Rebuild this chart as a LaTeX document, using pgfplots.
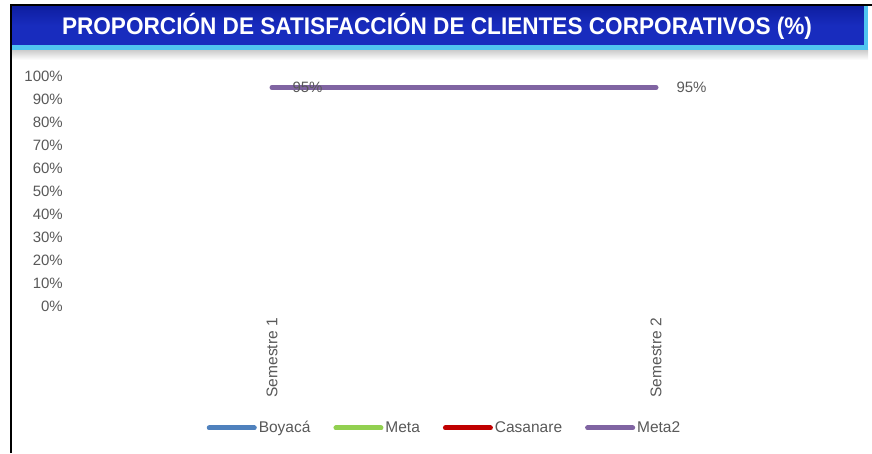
\documentclass[border=0pt]{standalone}
\usepackage{pgfplots}
\pgfplotsset{compat=1.18}
\usepackage{fontspec}
\setmainfont{Liberation Sans}
\usepackage{graphicx}
\definecolor{bandblue}{RGB}{24,44,190}
\definecolor{banddark}{RGB}{14,30,160}
\definecolor{bandlight}{RGB}{80,196,240}
\definecolor{tickgray}{RGB}{89,89,89}
\definecolor{cBoy}{RGB}{79,129,189}
\definecolor{cMeta}{RGB}{146,208,80}
\definecolor{cCas}{RGB}{192,0,0}
\definecolor{cMeta2}{RGB}{128,100,162}
\begin{document}
\begin{tikzpicture}[x=1pt,y=1pt]
\useasboundingbox (0,0) rectangle (872,453);
\fill[white] (0,0) rectangle (872,453);
% title band
\fill[top color=white!60!gray, bottom color=white] (12,393) rectangle (868,403);
\fill[bandlight] (12,403) rectangle (868,408);
\shade[top color=banddark, bottom color=bandblue, middle color=bandblue] (12,408) rectangle (866,447);
\fill[bandlight] (864,403) rectangle (868,447);
\node[text=white, font=\bfseries\fontsize{24}{28}\selectfont, inner sep=0pt] at (437,427) {\resizebox{750pt}{\height}{PROPORCIÓN DE SATISFACCIÓN DE CLIENTES CORPORATIVOS (\%)}};
% border
\draw[black, line width=2pt] (11,0) -- (11,448) -- (872,448);
\begin{axis}[
  at={(80pt,147pt)}, anchor=south west,
  scale only axis, width=768pt, height=230pt,
  xmin=-0.5, xmax=1.5, ymin=0, ymax=1,
  axis line style={draw=none}, major tick style={draw=none},
  ytick={0,0.1,0.2,0.3,0.4,0.5,0.6,0.7,0.8,0.9,1},
  yticklabels={0\%,10\%,20\%,30\%,40\%,50\%,60\%,70\%,80\%,90\%,100\%},
  yticklabel style={anchor=east, inner sep=0pt, xshift=-17pt, text=tickgray, font=\fontsize{15}{18}\selectfont},
  xtick={0,1}, xticklabels={Semestre 1, Semestre 2},
  xticklabel style={yshift=-12pt, rotate=90, anchor=east, inner sep=0pt, text=tickgray, font=\fontsize{15.5}{18}\selectfont},
  /pgf/number format/assume math mode=true,
  legend columns=4,
  legend style={at={(0.4746,-0.5304)}, anchor=center, draw=none, fill=none,
    font=\fontsize{15.5}{18}\selectfont, text=tickgray,
    /tikz/every even column/.append style={column sep=21pt}},
  legend image code/.code={\draw[#1, line width=5pt, line cap=round] (0pt,0pt) -- (45pt,0pt);},
]
\addlegendimage{cBoy}\addlegendentry{Boyacá}
\addlegendimage{cMeta}\addlegendentry{Meta}
\addlegendimage{cCas}\addlegendentry{Casanare}
\addplot[cMeta2, line width=5pt, line cap=round, point meta=explicit symbolic,
  nodes near coords, every node near coord/.append style={anchor=west, inner sep=0pt, xshift=18pt, yshift=0pt, text=tickgray, font=\fontsize{15}{18}\selectfont}]
  coordinates {(0,0.95) [95\%] (1,0.95) [95\%]};
\addlegendentry{Meta2}
\end{axis}
\end{tikzpicture}
\end{document}
